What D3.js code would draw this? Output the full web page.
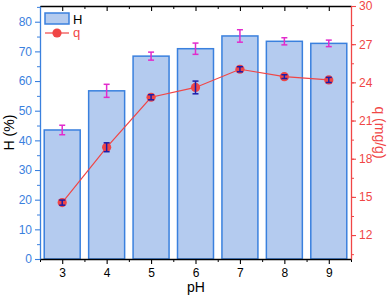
<!DOCTYPE html>
<html><head><meta charset="utf-8">
<script src="https://cdn.jsdelivr.net/npm/d3@7"></script>
<style>body{margin:0;background:#fff}svg{display:block;font-family:"Liberation Sans",Arial,sans-serif}</style>
</head><body><svg id="c" width="390" height="296"></svg>
<script>
const pH = [3,4,5,6,7,8,9];
const H = [43.5,56.7,68.4,70.9,75.2,73.4,72.7];
const Herr = [1.6,2.2,1.35,1.9,2.1,1.2,1.1];
const q = [14.55,18.9,22.83,23.6,25.03,24.45,24.19];
const qErr = [0.2,0.35,0.2,0.5,0.2,0.15,0.2];
const hTicks = [0,10,20,30,40,50,60,70,80];
const qTicks = [12,15,18,21,24,27,30];

const blue="#3a80de", fill="#b4cbef", red="#f04646", mag="#e22ccc", dblue="#1c1ca8";
const svg=d3.select("#c");
const L=40,R=351,T=6,B=259;
const x=d3.scaleLinear().domain([2.5,9.5]).range([L,R]);
const yH=d3.scaleLinear().domain([0,85.3]).range([B,T]);
const yQ=d3.scaleLinear().domain([10.12,30]).range([B,T]);
const bw=(x(1)-x(0))*0.81;

// bars
svg.append("g").selectAll("rect").data(pH).join("rect")
 .attr("x",(d)=>x(d)-bw/2).attr("width",bw)
 .attr("y",(d,i)=>yH(H[i])).attr("height",(d,i)=>B-yH(H[i]))
 .attr("fill",fill).attr("stroke",blue).attr("stroke-width",1.5);
// H error bars
const eg=svg.append("g").attr("stroke",mag).attr("stroke-width",1.5);
pH.forEach((d,i)=>{
 const cx=x(d),y1=yH(H[i]+Herr[i]),y2=yH(H[i]-Herr[i]);
 eg.append("line").attr("x1",cx).attr("x2",cx).attr("y1",y1).attr("y2",y2);
 eg.append("line").attr("x1",cx-3).attr("x2",cx+3).attr("y1",y1).attr("y2",y1);
 eg.append("line").attr("x1",cx-3).attr("x2",cx+3).attr("y1",y2).attr("y2",y2);
});
// q line
svg.append("path").datum(pH).attr("fill","none").attr("stroke",red).attr("stroke-width",1.2)
 .attr("d",d3.line().x(d=>x(d)).y((d,i)=>yQ(q[i])));
svg.append("g").selectAll("circle").data(pH).join("circle")
 .attr("cx",d=>x(d)).attr("cy",(d,i)=>yQ(q[i])).attr("r",4.6).attr("fill",red);
const qg=svg.append("g").attr("stroke",dblue).attr("stroke-width",1.5);
pH.forEach((d,i)=>{
 const cx=x(d),y1=yQ(q[i]+qErr[i]),y2=yQ(q[i]-qErr[i]);
 qg.append("line").attr("x1",cx).attr("x2",cx).attr("y1",y1).attr("y2",y2);
 qg.append("line").attr("x1",cx-3).attr("x2",cx+3).attr("y1",y1).attr("y2",y1);
 qg.append("line").attr("x1",cx-3).attr("x2",cx+3).attr("y1",y2).attr("y2",y2);
});

// axes
function style(g,col){g.select(".domain").attr("stroke",col).attr("stroke-width",1.3);g.selectAll("line").attr("stroke",col).attr("stroke-width",1.1);g.selectAll("text").attr("fill",col).style("font-size","12px");}
// bottom
const bx=svg.append("g").attr("transform",`translate(0,${B})`)
 .call(d3.axisBottom(x).tickValues(pH).tickFormat(d3.format("d")).tickSize(5).tickPadding(4).tickSizeOuter(0));
style(bx,"#000");
svg.append("g").attr("transform",`translate(0,${B})`)
 .call(d3.axisBottom(x).tickValues(d3.range(2.5,9.6,1)).tickFormat("").tickSize(3).tickSizeOuter(0))
 .call(g=>{g.select(".domain").remove();g.selectAll("line").attr("stroke","#000");});
// top
const tx=svg.append("g").attr("transform",`translate(0,${T})`)
 .call(d3.axisBottom(x).tickValues(pH).tickFormat("").tickSize(5).tickSizeOuter(0));
style(tx,"#000");
svg.append("g").attr("transform",`translate(0,${T})`)
 .call(d3.axisBottom(x).tickValues(d3.range(2.5,9.6,1)).tickFormat("").tickSize(3).tickSizeOuter(0))
 .call(g=>{g.select(".domain").remove();g.selectAll("line").attr("stroke","#000");});
// left
const ly=svg.append("g").attr("transform",`translate(${L},0)`)
 .call(d3.axisLeft(yH).tickValues(hTicks).tickSize(5).tickPadding(3).tickSizeOuter(0));
style(ly,blue);
svg.append("g").attr("transform",`translate(${L},0)`)
 .call(d3.axisLeft(yH).tickValues(d3.range(5,86,10)).tickFormat("").tickSize(3).tickSizeOuter(0))
 .call(g=>{g.select(".domain").remove();g.selectAll("line").attr("stroke",blue);});
// right
const ry=svg.append("g").attr("transform",`translate(${R},0)`)
 .call(d3.axisRight(yQ).tickValues(qTicks).tickSize(5).tickPadding(3).tickSizeOuter(0));
style(ry,red);
svg.append("g").attr("transform",`translate(${R},0)`)
 .call(d3.axisRight(yQ).tickValues(d3.range(10.5,30,1.5)).tickFormat("").tickSize(3).tickSizeOuter(0))
 .call(g=>{g.select(".domain").remove();g.selectAll("line").attr("stroke",red);});

// titles
svg.append("text").attr("x",196).attr("y",292).attr("text-anchor","middle").style("font-size","14px").text("pH");
svg.append("text").attr("transform",`translate(14,${(T+B)/2}) rotate(-90)`).attr("text-anchor","middle").style("font-size","14px").text("H (%)");
svg.append("text").attr("transform",`translate(375,${(T+B)/2}) rotate(90)`).attr("text-anchor","middle").attr("fill",red).style("font-size","14px").text("q (mg/g)");

// legend
svg.append("rect").attr("x",45).attr("y",13).attr("width",24).attr("height",11).attr("fill",fill).attr("stroke",blue).attr("stroke-width",1.5);
svg.append("text").attr("x",73).attr("y",23.5).style("font-size","13px").text("H");
svg.append("line").attr("x1",45).attr("x2",69).attr("y1",33).attr("y2",33).attr("stroke",red).attr("stroke-width",1.2);
svg.append("circle").attr("cx",57).attr("cy",33).attr("r",4.6).attr("fill",red);
svg.append("text").attr("x",73).attr("y",37).attr("fill",red).style("font-size","13px").text("q");
</script></body></html>
